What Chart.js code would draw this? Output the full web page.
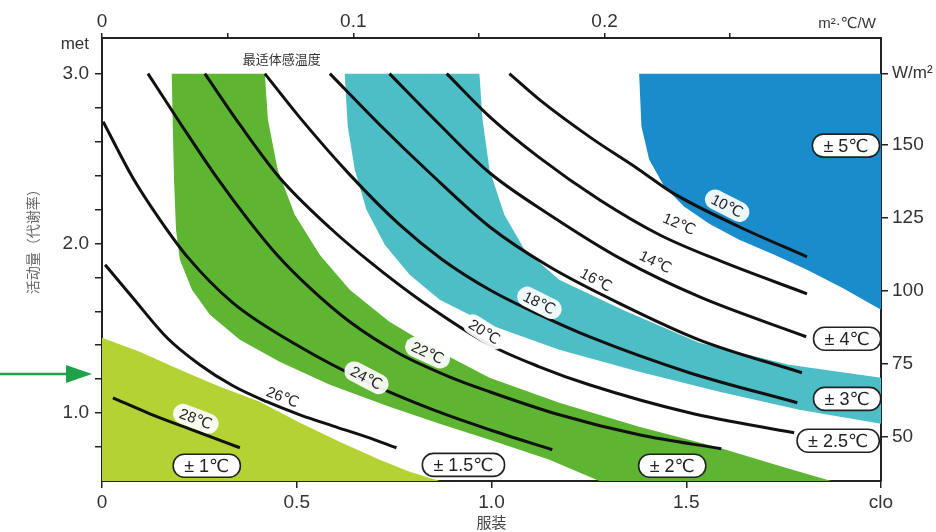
<!DOCTYPE html>
<html>
<head>
<meta charset="utf-8">
<style>
  html, body { margin: 0; padding: 0; background: #fff; }
  #wrap { width: 936px; height: 532px; }
</style>
<script src="https://cdn.jsdelivr.net/npm/chart.js@4.4.1/dist/chart.umd.min.js"></script>
</head>
<body>
<div id="wrap"><canvas id="grafico" width="936" height="532"></canvas></div>
<script>
// isolinhas de temperatura: pares [clo, met]
const isoline10 = [[1.046, 3.0], [1.123, 2.847], [1.251, 2.629], [1.379, 2.434], [1.464, 2.299], [1.636, 2.098], [1.810, 1.921]];
const isoline12 = [[0.885, 3.0], [0.995, 2.747], [1.123, 2.505], [1.277, 2.257], [1.431, 2.051], [1.592, 1.892], [1.810, 1.703]];
const isoline14 = [[0.738, 3.0], [0.867, 2.699], [0.995, 2.416], [1.149, 2.169], [1.336, 1.904], [1.533, 1.686], [1.808, 1.450]];
const isoline16 = [[0.585, 3.0], [0.713, 2.699], [0.841, 2.416], [0.995, 2.098], [1.149, 1.862], [1.336, 1.638], [1.533, 1.432], [1.797, 1.238]];
const isoline18 = [[0.418, 3.0], [0.508, 2.741], [0.636, 2.405], [0.764, 2.110], [0.874, 1.904], [0.995, 1.727], [1.123, 1.580], [1.251, 1.450], [1.508, 1.238], [1.785, 1.061]];
const isoline20 = [[0.264, 3.0], [0.354, 2.699], [0.456, 2.387], [0.585, 2.092], [0.687, 1.892], [0.815, 1.668], [0.995, 1.403], [1.123, 1.273], [1.251, 1.167], [1.508, 1.002], [1.777, 0.884]];
const isoline22 = [[0.118, 3.0], [0.200, 2.711], [0.295, 2.387], [0.379, 2.128], [0.449, 1.933], [0.533, 1.739], [0.636, 1.538], [0.764, 1.350], [0.892, 1.214], [0.995, 1.126], [1.174, 0.990], [1.379, 0.872], [1.590, 0.790]];
const isoline24 = [[0.003, 2.717], [0.079, 2.387], [0.149, 2.139], [0.221, 1.916], [0.336, 1.650], [0.508, 1.391], [0.679, 1.185], [0.849, 1.020], [0.995, 0.902], [1.156, 0.784]];
const isoline26 = [[0.008, 1.874], [0.079, 1.680], [0.167, 1.444], [0.251, 1.285], [0.336, 1.161], [0.423, 1.067], [0.508, 0.990], [0.592, 0.925], [0.679, 0.860], [0.756, 0.796]];
const isoline28 = [[0.028, 1.090], [0.123, 0.996], [0.238, 0.896], [0.354, 0.796]];
const tempNames = ["10℃", "12℃", "14℃", "16℃", "18℃", "20℃", "22℃", "24℃", "26℃", "28℃"];

// faixas de tolerancia (contorno fechado) [clo, met]
const zone1 = [[0, 0.6], [0, 1.444], [0.097, 1.361], [0.200, 1.255], [0.303, 1.155], [0.405, 1.067], [0.508, 0.943], [0.610, 0.831], [0.713, 0.725], [0.790, 0.654], [0.867, 0.6]];
const zone2 = [[0.179, 3.0], [0.182, 2.670], [0.185, 2.375], [0.190, 2.081], [0.200, 1.904], [0.231, 1.727], [0.277, 1.580], [0.354, 1.432], [0.456, 1.303], [0.585, 1.167], [0.738, 1.037], [0.867, 0.937], [0.995, 0.843], [1.149, 0.725], [1.277, 0.6],
  [1.872, 0.6], [1.738, 0.690], [1.585, 0.796], [1.379, 0.919], [1.174, 1.061], [0.995, 1.208], [0.867, 1.361], [0.738, 1.538], [0.636, 1.727], [0.559, 1.933], [0.495, 2.169], [0.451, 2.434], [0.426, 2.729], [0.418, 3.0]];
const zone3 = [[0.623, 3.0], [0.631, 2.688], [0.649, 2.434], [0.679, 2.198], [0.726, 1.992], [0.790, 1.815], [0.867, 1.668], [0.995, 1.521], [1.174, 1.373], [1.379, 1.244], [1.585, 1.126], [1.790, 1.020], [2.0, 0.937],
  [2.0, 1.208], [1.764, 1.285], [1.533, 1.415], [1.336, 1.609], [1.174, 1.786], [1.085, 1.963], [1.033, 2.169], [0.995, 2.434], [0.977, 2.729], [0.969, 3.0]];
const zone5 = [[1.379, 3.0], [2.0, 3.0], [2.0, 1.609], [1.905, 1.733], [1.810, 1.845], [1.726, 1.933], [1.636, 2.022], [1.559, 2.116], [1.495, 2.216], [1.444, 2.334], [1.405, 2.493], [1.385, 2.688]];
const toleranceNames = ["± 1℃", "± 1.5℃", "± 2℃", "± 2.5℃", "± 3℃", "± 4℃", "± 5℃"];

// eixos
const cloTicks = [0, 0.5, 1.0, 1.5, 2.0];
const cloTickLabels = ["0", "0.5", "1.0", "1.5", "clo"];
const metTicks = [0.8, 1.0, 1.2, 1.4, 1.6, 1.8, 2.0, 2.2, 2.4, 2.6, 2.8, 3.0, 3.17];
const metTickLabels = ["", "1.0", "", "", "", "", "2.0", "", "", "", "", "3.0", "met"];
const wattTicks = [50, 75, 100, 125, 150, 174.45];
const wattTickLabels = ["50", "75", "100", "125", "150", "W/m²"];
const resistTicks = [0, 0.05, 0.1, 0.15, 0.2, 0.25, 0.2965];
const resistTickLabels = ["0", "", "0.1", "", "0.2", "", "m²·℃/W"];

// onde ficam os rotulos (clo, met)
const tempLabelAt = [[1.605, 2.222], [1.482, 2.116], [1.421, 1.892], [1.269, 1.786], [1.123, 1.650], [0.982, 1.479], [0.836, 1.356], [0.679, 1.208], [0.464, 1.096], [0.241, 0.967]];
const tempLabelBoxed = [true, false, false, false, true, true, true, true, false, true];
const toleranceAt = [[0.269, 0.690], [0.928, 0.695], [1.464, 0.690], [1.890, 0.837], [1.913, 1.084], [1.913, 1.438], [1.910, 2.576]];
const arrowMet = 1.23;

document.addEventListener("DOMContentLoaded", () => {
  const SANS = '"Liberation Sans", Arial, "DejaVu Sans", sans-serif';
  const CJK = '"Noto Sans CJK SC", sans-serif';
  const isolines = [isoline10, isoline12, isoline14, isoline16, isoline18, isoline20, isoline22, isoline24, isoline26, isoline28];
  const zones = [
    { pts: zone1, cor: "#b3d335" },
    { pts: zone2, cor: "#5db532" },
    { pts: zone3, cor: "#4dbdc6" },
    { pts: zone5, cor: "#1a8bcb" },
  ];

  const toXY = (arr) => arr.map(([x, y]) => ({ x, y }));

  function caixa(ctx, x, y, w, h, r) {
    ctx.beginPath();
    ctx.moveTo(x + r, y);
    ctx.arcTo(x + w, y, x + w, y + h, r);
    ctx.arcTo(x + w, y + h, x, y + h, r);
    ctx.arcTo(x, y + h, x, y, r);
    ctx.arcTo(x, y, x + w, y, r);
    ctx.closePath();
  }

  function anguloEm(curva, clo, sx, sy) {
    let i = 0;
    while (i < curva.length - 2 && curva[i + 1][0] < clo) i++;
    const a = curva[i], b = curva[i + 1];
    const dx = sx.getPixelForValue(b[0]) - sx.getPixelForValue(a[0]);
    const dy = sy.getPixelForValue(b[1]) - sy.getPixelForValue(a[1]);
    return Math.atan2(dy, dx);
  }

  const rotulos = {
    id: "rotulos",
    afterDatasetsDraw(chart) {
      const { ctx, scales } = chart;
      const sx = scales.x, sy = scales.y;
      ctx.save();
      ctx.textAlign = "center";
      ctx.textBaseline = "middle";

      // rotulos das isolinhas
      ctx.font = "15px " + SANS;
      tempNames.forEach((t, i) => {
        const [c, m] = tempLabelAt[i];
        const px = sx.getPixelForValue(c), py = sy.getPixelForValue(m);
        const ang = anguloEm(isolines[i], c, sx, sy);
        ctx.save();
        ctx.translate(px, py);
        ctx.rotate(ang);
        const w = ctx.measureText(t).width;
        if (tempLabelBoxed[i]) {
          ctx.fillStyle = "rgba(255,255,255,0.92)";
          caixa(ctx, -w / 2 - 7, -10, w + 14, 20, 10);
          ctx.fill();
        }
        ctx.fillStyle = "#222";
        ctx.fillText(t, 0, 1);
        ctx.restore();
      });

      // caixas de tolerancia
      ctx.font = "18px " + SANS;
      toleranceNames.forEach((t, i) => {
        const [c, m] = toleranceAt[i];
        const px = sx.getPixelForValue(c), py = sy.getPixelForValue(m);
        const w = ctx.measureText(t).width + 22;
        caixa(ctx, px - w / 2, py - 11.5, w, 23, 11);
        ctx.fillStyle = "#fff";
        ctx.fill();
        ctx.lineWidth = 1.6;
        ctx.strokeStyle = "#222";
        ctx.stroke();
        ctx.fillStyle = "#222";
        ctx.fillText(t, px, py + 1);
      });

      // titulo da faixa
      ctx.font = "13px " + CJK;
      ctx.fillStyle = "#333";
      ctx.fillText("最适体感温度", sx.getPixelForValue(0.4615), sy.getPixelForValue(3.083));
      ctx.restore();
    },
    afterDraw(chart) {
      const { ctx, scales } = chart;
      const sy = scales.y;
      const y = sy.getPixelForValue(arrowMet);
      const ponta = sy.left + sy.width - 10;
      ctx.save();
      ctx.strokeStyle = "#1fa24a";
      ctx.fillStyle = "#1fa24a";
      ctx.lineWidth = 2.5;
      ctx.beginPath();
      ctx.moveTo(0, y);
      ctx.lineTo(ponta - 18, y);
      ctx.stroke();
      ctx.beginPath();
      ctx.moveTo(ponta - 26, y - 9);
      ctx.lineTo(ponta, y);
      ctx.lineTo(ponta - 26, y + 9);
      ctx.closePath();
      ctx.fill();

      // titulo do eixo vertical
      ctx.translate(33, sy.getPixelForValue(2.03));
      ctx.rotate(-Math.PI / 2);
      ctx.font = "14px " + CJK;
      ctx.fillStyle = "#666";
      ctx.textAlign = "center";
      ctx.textBaseline = "middle";
      ctx.fillText("活动量（代谢率）", 0, 0);
      ctx.restore();
    },
  };

  const grade = { drawOnChartArea: false, tickLength: 7, color: "#222", lineWidth: 1.5 };
  const borda = { color: "#222", width: 2 };
  const fonteTick = { size: 19, family: SANS };

  const datasets = [];
  isolines.forEach((curva, i) => {
    datasets.push({
      label: tempNames[i],
      data: toXY(curva),
      borderColor: "#111",
      borderWidth: 3,
      cubicInterpolationMode: "monotone",
      pointRadius: 0,
      fill: false,
      order: 1,
    });
  });
  zones.forEach((z) => {
    datasets.push({
      data: toXY(z.pts),
      borderColor: "rgba(0,0,0,0)",
      borderWidth: 0,
      backgroundColor: z.cor,
      fill: "shape",
      tension: 0,
      pointRadius: 0,
      order: 2,
    });
  });

  new Chart(document.getElementById("grafico").getContext("2d"), {
    type: "line",
    data: { datasets },
    options: {
      responsive: false,
      devicePixelRatio: 1,
      animation: false,
      layout: { padding: 0 },
      plugins: { legend: { display: false }, tooltip: { enabled: false } },
      scales: {
        x: {
          type: "linear", position: "bottom", min: 0, max: 2,
          afterBuildTicks: (s) => { s.ticks = cloTicks.map((v) => ({ value: v })); },
          afterFit: (s) => { s.height = 51; },
          ticks: { callback: (v, i) => cloTickLabels[i], font: fonteTick, color: "#333", padding: 3, maxRotation: 0 },
          grid: grade, border: borda,
          title: { display: true, text: "服装", color: "#444", font: { size: 15, family: CJK }, padding: { top: 0, bottom: 1 } },
        },
        x2: {
          type: "linear", position: "top", min: 0, max: 0.31,
          afterBuildTicks: (s) => { s.ticks = resistTicks.map((v) => ({ value: v })); },
          afterFit: (s) => { s.height = 38; },
          ticks: {
            callback: (v, i) => resistTickLabels[i], color: "#333", padding: 0, maxRotation: 0,
            font: (c) => (c.index === resistTicks.length - 1 ? { size: 15, family: SANS } : fonteTick),
          },
          grid: { ...grade, tickLength: 5, tickColor: (c) => (c.index === resistTicks.length - 1 ? "rgba(0,0,0,0)" : "#222") },
          border: borda,
        },
        y: {
          type: "linear", position: "left", min: 0.6, max: 3.21,
          afterBuildTicks: (s) => { s.ticks = metTicks.map((v) => ({ value: v })); },
          afterFit: (s) => { s.width = 102; },
          ticks: {
            callback: (v, i) => metTickLabels[i], color: "#333", padding: 6,
            font: (c) => (c.index === metTicks.length - 1 ? { size: 17, family: SANS } : fonteTick),
          },
          grid: { ...grade, tickColor: (c) => (c.index === metTicks.length - 1 ? "rgba(0,0,0,0)" : "#222") },
          border: borda,
        },
        y2: {
          type: "linear", position: "right", min: 0.6 * 58.15, max: 3.21 * 58.15,
          afterBuildTicks: (s) => { s.ticks = wattTicks.map((v) => ({ value: v })); },
          afterFit: (s) => { s.width = 55; },
          ticks: {
            callback: (v, i) => wattTickLabels[i], color: "#333", padding: 4,
            font: (c) => (c.index === wattTicks.length - 1 ? { size: 17, family: SANS } : fonteTick),
          },
          grid: grade, border: borda,
        },
      },
    },
    plugins: [rotulos],
  });
});
</script>
</body>
</html>
